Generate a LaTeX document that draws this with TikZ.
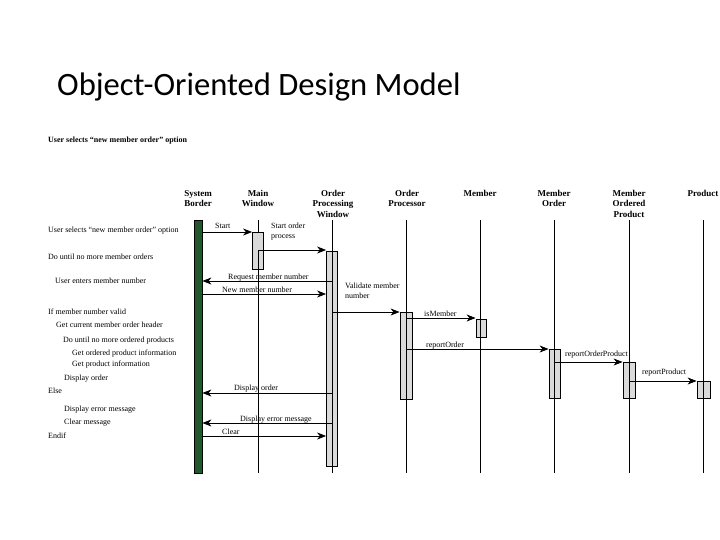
\documentclass[tikz,border=0pt]{standalone}
\usepackage{fontspec}
\setmainfont{Liberation Serif}
\newfontfamily\titlefont{Carlito}
\usetikzlibrary{arrows.meta}
\definecolor{sbgreen}{RGB}{30,90,42}
\definecolor{actgray}{RGB}{218,218,218}
\tikzset{
  life/.style={line width=0.8pt, black},
  actbox/.style={draw=black, line width=0.8pt, fill=actgray, inner sep=0pt, anchor=north},
  msg/.style={line width=0.8pt, -{Stealth[length=9pt,width=7pt,inset=2.8pt]}},
  txt/.style={font=\fontsize{8}{9.5}\selectfont, inner sep=0pt, anchor=base west},
  mlabel/.style={font=\fontsize{8}{9.5}\selectfont, inner sep=0pt, anchor=base west, align=left},
  hdr/.style={font=\bfseries\fontsize{9}{10.5}\selectfont, inner sep=0pt, anchor=north, align=center},
}
\begin{document}
\begin{tikzpicture}[x=1pt,y=-1pt]
\useasboundingbox[fill=white] (0,0) rectangle (720,540);
% title
\node[font=\titlefont\fontsize{32.6}{36}\selectfont, inner sep=0pt, anchor=base west] (title) at (57,96) {Object-Oriented Design Model};
% top heading
\node[txt, font=\bfseries\fontsize{8}{9.5}\selectfont] (head) at (48,143) {User selects ``new member order'' option};
% column headers
\node[hdr] (hSB) at (198,190) {System\\Border};
\node[hdr] (hMW) at (258,190) {Main\\Window};
\node[hdr] (hOPW) at (333,190) {Order\\Processing\\Window};
\node[hdr] (hOP) at (407,190) {Order\\Processor};
\node[hdr] (hM) at (480,190) {Member};
\node[hdr] (hMO) at (554,190) {Member\\Order};
\node[hdr] (hMOP) at (629,190) {Member\\Ordered\\Product};
\node[hdr] (hP) at (703,190) {Product};
% lifeline ends
\coordinate (mwT) at (258,220); \coordinate (mwB) at (258,473);
\coordinate (opwT) at (332,220); \coordinate (opwB) at (332,473);
\coordinate (opT) at (406,220); \coordinate (opB) at (406,473);
\coordinate (mT) at (480,220); \coordinate (mB) at (480,473);
\coordinate (moT) at (554,220); \coordinate (moB) at (554,473);
\coordinate (mopT) at (629,220); \coordinate (mopB) at (629,473);
\coordinate (pT) at (703,220); \coordinate (pB) at (703,473);
% system border bar
\node[draw=black, line width=0.8pt, fill=sbgreen, inner sep=0pt, anchor=north, minimum width=8pt, minimum height=253pt] (sb) at (198,220) {};
% activation boxes
\node[actbox, minimum width=11pt, minimum height=37pt] (mwA) at (258,232) {};
\node[actbox, minimum width=11pt, minimum height=215pt] (opwA) at (332,251) {};
\node[actbox, minimum width=12pt, minimum height=87pt] (opA) at (406,312) {};
\node[actbox, minimum width=10pt, minimum height=18pt] (mA) at (481,319) {};
\node[actbox, minimum width=11pt, minimum height=49pt] (moA) at (554.5,349) {};
\node[actbox, minimum width=12pt, minimum height=36pt] (mopA) at (629,362) {};
\node[actbox, minimum width=13pt, minimum height=17pt] (pA) at (703.5,381) {};
% lifelines
\draw[life] (mwT) -- (mwA.north) (mwA.south) -- (mwB);
\draw[life] (mwA.south |- 0,250) -- (mwA.south);
\draw[life] (opwT) -- (opwB);
\draw[life] (opT) -- (opB);
\draw[life] (mT) -- (mB);
\draw[life] (moT) -- (moB);
\draw[life] (mopT) -- (mopB);
\draw[life] (pT) -- (pB);
% left column text
\node[txt] (l1) at (48,233) {User selects ``new member order'' option};
\node[txt] (l2) at (48,259) {Do until no more member orders};
\node[txt] (l3) at (55,283) {User enters member number};
\node[txt] (l4) at (48,314) {If member number valid};
\node[txt] (l5) at (56,327) {Get current member order header};
\node[txt] (l6) at (63,342) {Do until no more ordered products};
\node[txt] (l7) at (72,355) {Get ordered product information};
\node[txt] (l8) at (72,366) {Get product information};
\node[txt] (l9) at (64,380) {Display order};
\node[txt] (l10) at (48,393) {Else};
\node[txt] (l11) at (64,411) {Display error message};
\node[txt] (l12) at (64,424) {Clear message};
\node[txt] (l13) at (48,438) {Endif};
% messages
\draw[msg] (sb.east |- 0,232) -- (mwA.west |- 0,232);
\node[mlabel] (m1) at (215,229) {Start};
\draw[msg] (mwT |- 0,250) -- (opwA.west |- 0,250);
\node[mlabel] (m2) at (271,238) {Start order\\process};
\draw[msg] (opwT |- 0,281) -- (sb.east |- 0,281);
\node[mlabel] (m3) at (228,279) {Request member number};
\draw[msg] (sb.east |- 0,294) -- (opwA.west |- 0,294);
\node[mlabel] (m4) at (222,292) {New member number};
\draw[msg] (opwT |- 0,312) -- (opA.west |- 0,312);
\node[mlabel] (m5) at (345,298) {Validate member\\number};
\draw[msg] (opT |- 0,318) -- (mA.west |- 0,318);
\node[mlabel] (m6) at (424,316) {isMember};
\draw[msg] (opT |- 0,349) -- (moA.west |- 0,349);
\node[mlabel] (m7) at (426,347) {reportOrder};
\draw[msg] (moT |- 0,362) -- (mopA.west |- 0,362);
\node[mlabel] (m8) at (565,356) {reportOrderProduct};
\draw[msg] (mopT |- 0,381) -- (pA.west |- 0,381);
\node[mlabel] (m9) at (642,374) {reportProduct};
\draw[msg] (opwT |- 0,393) -- (sb.east |- 0,393);
\node[mlabel] (m10) at (234,390) {Display order};
\draw[msg] (opwT |- 0,423) -- (sb.east |- 0,423);
\node[mlabel] (m11) at (240,421) {Display error message};
\draw[msg] (sb.east |- 0,436) -- (opwA.west |- 0,436);
\node[mlabel] (m12) at (222,434) {Clear};
\end{tikzpicture}
\end{document}
